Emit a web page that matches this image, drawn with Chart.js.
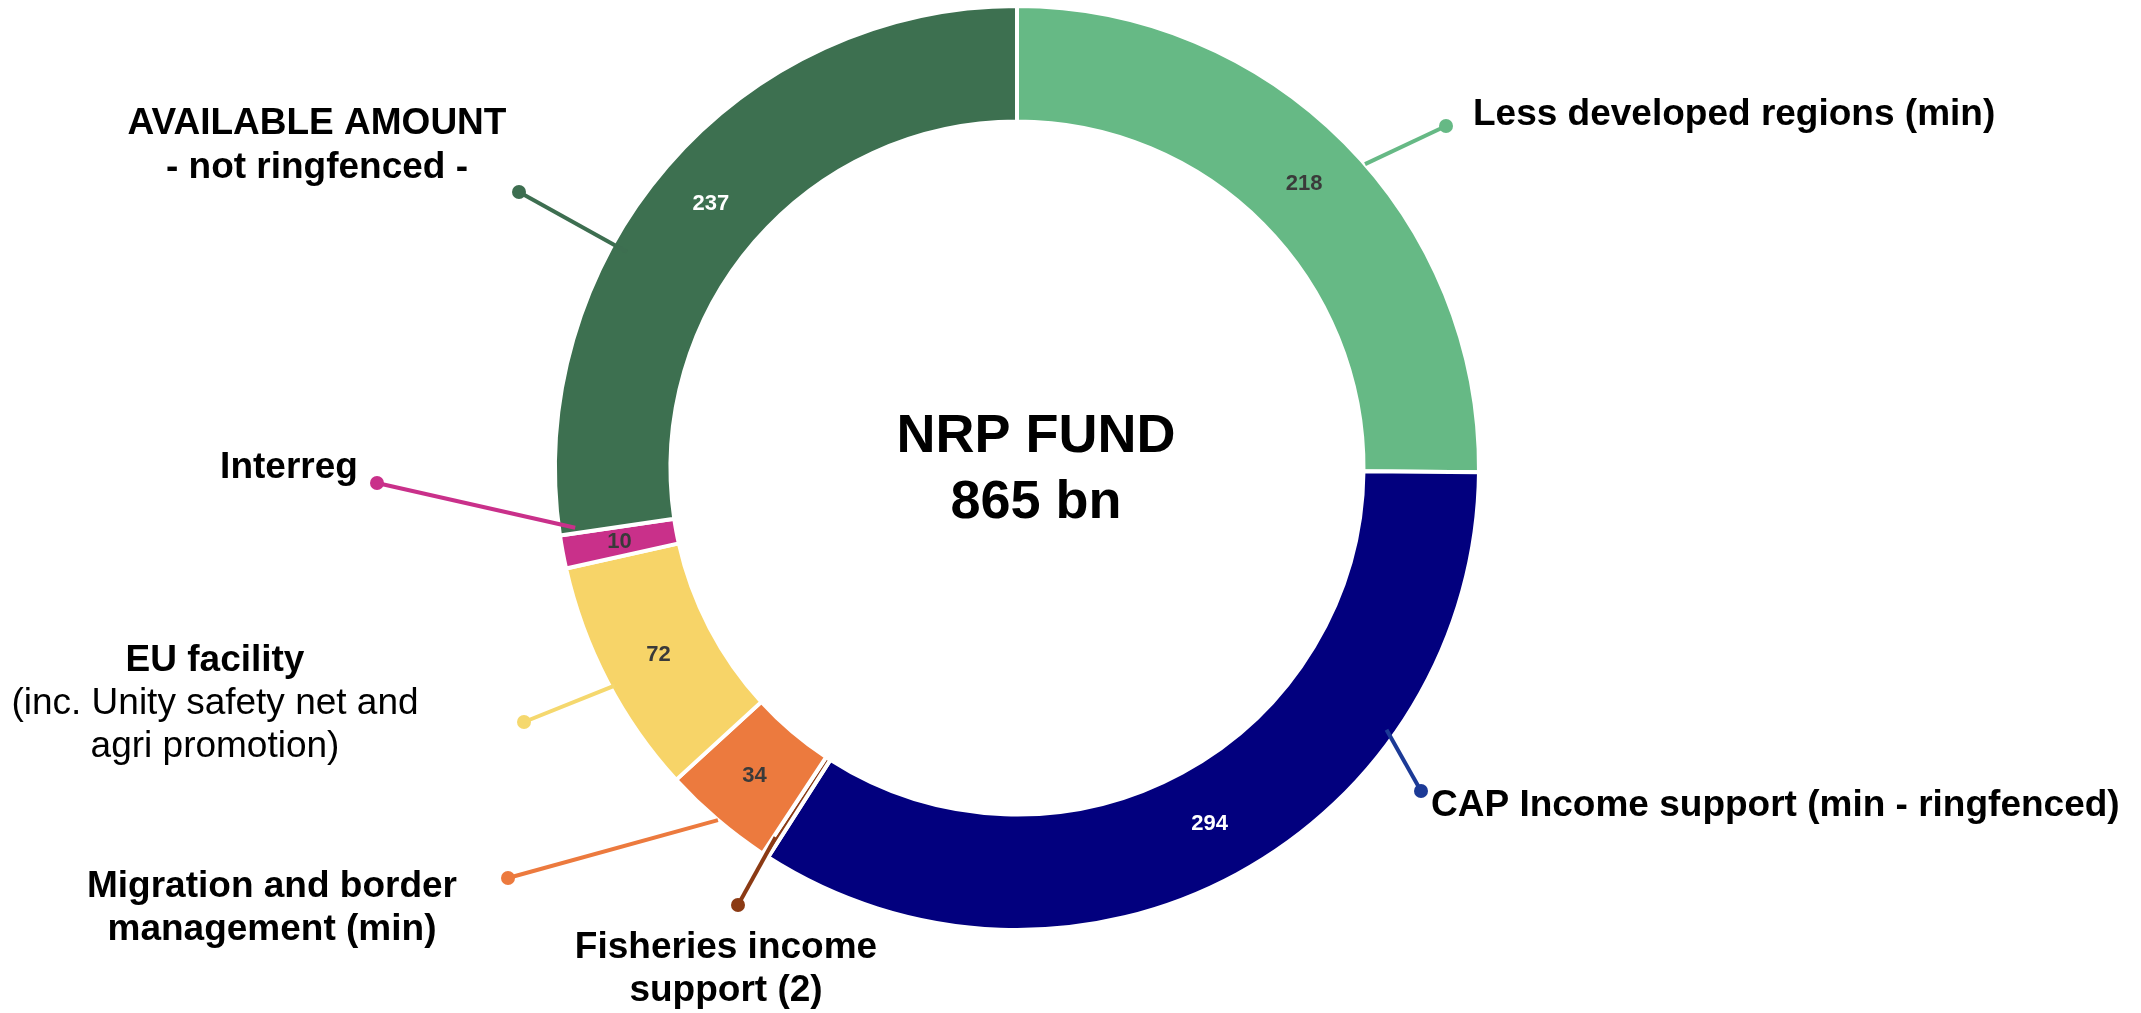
<!DOCTYPE html>
<html>
<head>
<meta charset="utf-8">
<script src="https://cdn.jsdelivr.net/npm/chart.js@4/dist/chart.umd.min.js"></script>
<style>
  html, body { margin: 0; padding: 0; background: #fff; overflow: hidden; }
  #chart { display: block; }
</style>
</head>
<body>
<canvas id="chart" width="2141" height="1013"></canvas>
<script>
// data
const categories = ['Less developed regions (min)', 'CAP Income support (min - ringfenced)', 'Fisheries income support (2)',
  'Migration and border management (min)', 'EU facility', 'Interreg', 'AVAILABLE AMOUNT'];
const amounts = [218, 294, 2, 34, 72, 10, 237];
const centreTitle = 'NRP FUND';
const centreTotal = '865 bn';

// styles
const sliceColours = ['#66b985', '#02007e', '#8b3a14', '#ec7a3e', '#f7d468', '#c9308a', '#3d7050'];
const lineColours = ['#66b985', '#1c3a96', '#8b3a14', '#ec7a3e', '#f5d86e', '#c9308a', '#3d6e50'];
const valueColours = ['#3a3a3a', '#ffffff', null, '#3a3a3a', '#3a3a3a', '#3a3a3a', '#ffffff'];

// callouts: where on the slice the line starts (fraction of the arc, radius factor), dot and text layout
const callouts = [
  { f: 0.54, r: 1.0, dot: [1446, 126], align: 'left', x: 1473, lines: [['Less developed regions (min)', 'bold', 125]] },
  { f: 0.285, r: 0.98, dot: [1421, 791], align: 'left', x: 1431, lines: [['CAP Income support (min - ringfenced)', 'bold', 816]] },
  { f: 0.7, r: 0.955, dot: [738, 905], align: 'center', x: 726, lines: [['Fisheries income', 'bold', 958], ['support (2)', 'bold', 1001]] },
  { f: 0.49, r: 1.0, dot: [508, 878], align: 'center', x: 272, lines: [['Migration and border', 'bold', 897], ['management (min)', 'bold', 940]] },
  { f: 0.47, r: 0.99, dot: [524, 722], align: 'center', x: 215, lines: [['EU facility', 'bold', 671], ['(inc. Unity safety net and', 'normal', 714], ['agri promotion)', 'normal', 757]] },
  { f: 1.17, r: 0.965, dot: [377, 483], align: 'center', x: 289, lines: [['Interreg', 'bold', 478]] },
  { f: 0.38, r: 0.965, dot: [519, 192], align: 'center', x: 317, lines: [['AVAILABLE AMOUNT', 'bold', 134], ['- not ringfenced -', 'bold', 178]] }
];

const FONT = '"Liberation Sans", Arial, Helvetica, sans-serif';

const annotate = {
  id: 'annotate',
  afterDatasetsDraw(chart) {
    const ctx = chart.ctx;
    const arcs = chart.getDatasetMeta(0).data;
    ctx.save();

    // leader lines + dots + texts
    arcs.forEach((arc, i) => {
      const c = callouts[i];
      const p = arc.getProps(['x', 'y', 'startAngle', 'endAngle', 'outerRadius'], true);
      const a = p.startAngle + c.f * (p.endAngle - p.startAngle);
      const sx = p.x + Math.cos(a) * p.outerRadius * c.r;
      const sy = p.y + Math.sin(a) * p.outerRadius * c.r;
      ctx.strokeStyle = lineColours[i];
      ctx.lineWidth = 4;
      ctx.beginPath();
      ctx.moveTo(sx, sy);
      ctx.lineTo(c.dot[0], c.dot[1]);
      ctx.stroke();
      ctx.fillStyle = lineColours[i];
      ctx.beginPath();
      ctx.arc(c.dot[0], c.dot[1], 7, 0, Math.PI * 2);
      ctx.fill();

      ctx.fillStyle = '#000';
      ctx.textAlign = c.align;
      ctx.textBaseline = 'alphabetic';
      c.lines.forEach(([txt, weight, y]) => {
        ctx.font = weight + ' 37px ' + FONT;
        ctx.fillText(txt, c.x, y);
      });
    });

    // values on the ring
    ctx.font = 'bold 22px ' + FONT;
    ctx.textAlign = 'center';
    ctx.textBaseline = 'middle';
    arcs.forEach((arc, i) => {
      if (!valueColours[i]) return;
      const pos = arc.tooltipPosition(true);
      ctx.fillStyle = valueColours[i];
      ctx.fillText(String(amounts[i]), pos.x, pos.y);
    });

    // centre text
    ctx.fillStyle = '#000';
    ctx.font = 'bold 54px ' + FONT;
    ctx.textBaseline = 'alphabetic';
    const cx = arcs[0].x + 19;
    ctx.fillText(centreTitle, cx, 452);
    ctx.fillText(centreTotal, cx, 518);
    ctx.restore();
  }
};

new Chart(document.getElementById('chart'), {
  type: 'doughnut',
  data: {
    labels: categories,
    datasets: [{
      data: amounts,
      backgroundColor: sliceColours,
      borderColor: '#ffffff',
      borderWidth: 4,
      hoverOffset: 0
    }]
  },
  options: {
    responsive: false,
    animation: false,
    cutout: '75%',
    layout: { padding: { top: 4, bottom: 81, left: 553, right: 660 } },
    plugins: {
      legend: { display: false },
      tooltip: { enabled: false }
    }
  },
  plugins: [annotate]
});
</script>
</body>
</html>
